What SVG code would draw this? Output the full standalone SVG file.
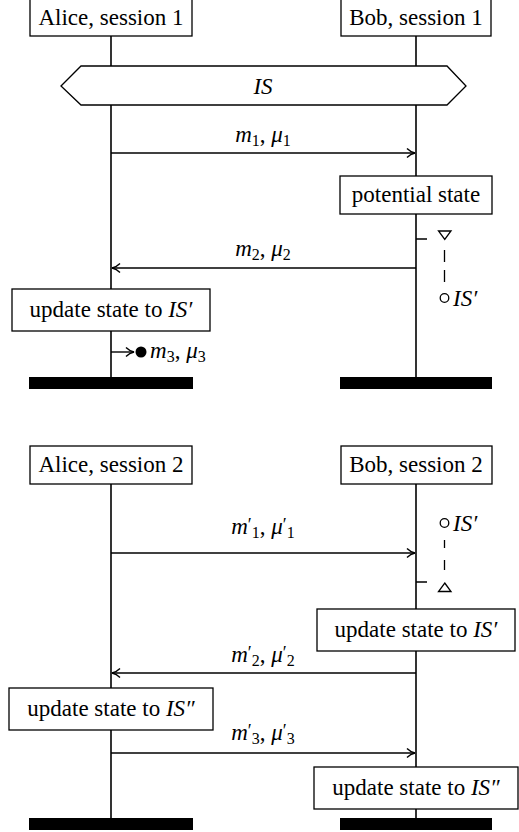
<svg xmlns="http://www.w3.org/2000/svg" width="519" height="832" viewBox="0 0 519 832">
<defs>
<marker id="arr" markerUnits="userSpaceOnUse" markerWidth="12" markerHeight="12" viewBox="-9 -6 10 12" refX="0" refY="0" orient="auto" overflow="visible">
<path d="M-8,-4.5 C-5.5,-2 -2.5,-0.6 0,0 C-2.5,0.6 -5.5,2 -8,4.5" fill="none" stroke="#000" stroke-width="1.4"/>
</marker>
<style>
text{fill:#000;font-family:"Liberation Serif","DejaVu Serif",serif;font-size:23px}
.m{font-style:italic}
.s{font-size:16px;font-style:normal}
.p{font-size:18px;font-style:normal}
.box{fill:#fff;stroke:#000;stroke-width:1.3}
.life{stroke:#000;stroke-width:1.6;fill:none}
.msg{stroke:#000;stroke-width:1.4;fill:none;marker-end:url(#arr)}
.dash{stroke:#000;stroke-width:1.3;fill:none}
.bar{fill:#000}
</style>
</defs>

<g id="lifelines">
<line class="life" x1="111" y1="30" x2="111" y2="378"/>
<line class="life" x1="416" y1="30" x2="416" y2="378"/>
<line class="life" x1="111" y1="480" x2="111" y2="819"/>
<line class="life" x1="416" y1="480" x2="416" y2="819"/>
</g>

<g id="alice1"><rect class="box" x="30" y="-2" width="162" height="38"/><text x="111" y="25" text-anchor="middle" font-family="Liberation Serif">Alice, session 1</text></g>
<g id="bob1"><rect class="box" x="341" y="-2" width="150" height="38"/><text x="416" y="25" text-anchor="middle" font-family="Liberation Serif">Bob, session 1</text></g>

<g id="is"><polygon class="box" points="61,86 81,66 447,66 466,86 447,105 81,105"/><text x="263" y="94" text-anchor="middle" class="m">IS</text></g>

<g id="potential"><rect class="box" x="340" y="176" width="152" height="38"/><text x="416" y="202" text-anchor="middle">potential state</text></g>

<g id="alice1-update"><rect class="box" x="12" y="289" width="198" height="42"/><text x="111" y="317" text-anchor="middle">update state to <tspan class="m">IS′</tspan></text></g>

<g id="bars1"><rect class="bar" x="29" y="377" width="164" height="12"/><rect class="bar" x="340" y="377" width="152" height="12"/></g>

<g id="alice2"><rect class="box" x="30" y="446" width="162" height="38"/><text x="111" y="472" text-anchor="middle">Alice, session 2</text></g>
<g id="bob2"><rect class="box" x="341" y="446" width="151" height="38"/><text x="416" y="472" text-anchor="middle">Bob, session 2</text></g>

<g id="bob2-update1"><rect class="box" x="317" y="609" width="198" height="42"/><text x="416" y="637" text-anchor="middle">update state to <tspan class="m">IS′</tspan></text></g>
<g id="alice2-update"><rect class="box" x="9" y="688" width="204" height="42"/><text x="111" y="716" text-anchor="middle">update state to <tspan class="m">IS″</tspan></text></g>
<g id="bob2-update2"><rect class="box" x="314" y="767" width="204" height="42"/><text x="416" y="795" text-anchor="middle">update state to <tspan class="m">IS″</tspan></text></g>

<g id="bars2"><rect class="bar" x="29" y="818" width="164" height="12"/><rect class="bar" x="340" y="818" width="152" height="12"/></g>

<g id="state-marks">
<path class="dash" d="M416,239 H427 M444.5,250 V262 M444.5,270 V282"/>
<polygon points="438.5,231 451,231 444.75,239.5" fill="#fff" stroke="#000" stroke-width="1.3"/>
<circle cx="444.5" cy="298" r="4.3" fill="#fff" stroke="#000" stroke-width="1.3"/>
<text x="453" y="306" class="m">IS′</text>

<circle cx="444.5" cy="523" r="4.3" fill="#fff" stroke="#000" stroke-width="1.3"/>
<text x="453" y="531" class="m">IS′</text>
<path class="dash" d="M444.5,540 V548 M444.5,560 V570 M416,582 H427"/>
<polygon points="444.75,583 451,591.5 438.5,591.5" fill="#fff" stroke="#000" stroke-width="1.3"/>
</g>

<g id="connectors">
<line class="msg" x1="111" y1="153" x2="415" y2="153"/>
<line class="msg" x1="416" y1="268" x2="112" y2="268"/>
<line class="msg" x1="111" y1="352" x2="134" y2="352"/>
<circle cx="141" cy="352" r="5.5" fill="#000"/>
<line class="msg" x1="111" y1="553" x2="415" y2="553"/>
<line class="msg" x1="416" y1="673" x2="112" y2="673"/>
<line class="msg" x1="111" y1="753" x2="415" y2="753"/>
</g>

<g id="labels">
<text x="263" y="142" text-anchor="middle"><tspan class="m">m</tspan><tspan class="s" dy="4">1</tspan><tspan dy="-4">, </tspan><tspan class="m">μ</tspan><tspan class="s" dy="4">1</tspan></text>
<text x="263" y="256" text-anchor="middle"><tspan class="m">m</tspan><tspan class="s" dy="4">2</tspan><tspan dy="-4">, </tspan><tspan class="m">μ</tspan><tspan class="s" dy="4">2</tspan></text>
<text x="150" y="358"><tspan class="m">m</tspan><tspan class="s" dy="4">3</tspan><tspan dy="-4">, </tspan><tspan class="m">μ</tspan><tspan class="s" dy="4">3</tspan></text>
<text x="263" y="534" text-anchor="middle"><tspan class="m">m</tspan><tspan class="p" dy="-3">′</tspan><tspan class="s" dy="7">1</tspan><tspan dy="-4">, </tspan><tspan class="m">μ</tspan><tspan class="p" dy="-3">′</tspan><tspan class="s" dy="7">1</tspan></text>
<text x="263" y="662" text-anchor="middle"><tspan class="m">m</tspan><tspan class="p" dy="-3">′</tspan><tspan class="s" dy="7">2</tspan><tspan dy="-4">, </tspan><tspan class="m">μ</tspan><tspan class="p" dy="-3">′</tspan><tspan class="s" dy="7">2</tspan></text>
<text x="263" y="740" text-anchor="middle"><tspan class="m">m</tspan><tspan class="p" dy="-3">′</tspan><tspan class="s" dy="7">3</tspan><tspan dy="-4">, </tspan><tspan class="m">μ</tspan><tspan class="p" dy="-3">′</tspan><tspan class="s" dy="7">3</tspan></text>
</g>
</svg>
